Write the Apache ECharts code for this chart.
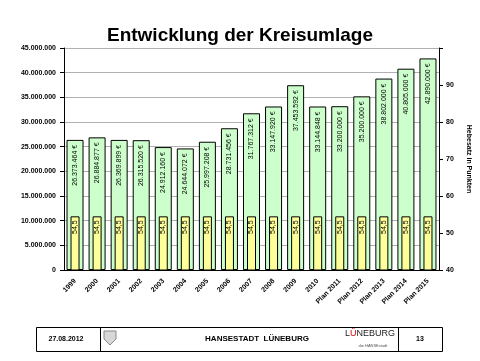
<!DOCTYPE html>
<html>
<head>
<meta charset="utf-8">
<script src="https://cdn.jsdelivr.net/npm/echarts@6/dist/echarts.min.js"></script>
<style>html,body{margin:0;padding:0;background:#fff}#c{width:480px;height:361px}</style>
</head>
<body>
<div id="c"></div>
<script>
var categories = ['1999','2000','2001','2002','2003','2004','2005','2006','2007','2008','2009','2010','Plan 2011','Plan 2012','Plan 2013','Plan 2014','Plan 2015'];
var kreisumlage = [26373464,26884877,26369899,26315520,24912160,24644072,25997208,28731456,31767312,33147920,37453592,33144848,33200000,35200000,38802000,40805000,42890000];
var hebesatz = [54.5,54.5,54.5,54.5,54.5,54.5,54.5,54.5,54.5,54.5,54.5,54.5,54.5,54.5,54.5,54.5,54.5];
var leftTicks = {min:0, max:45000000, interval:5000000};
var rightTicks = {min:40, max:100, interval:10};

function fmt(v){ return String(v).replace(/\B(?=(\d{3})+(?!\d))/g,'.'); }

var chart = echarts.init(document.getElementById('c'));
var F = 'Liberation Sans, Arial, sans-serif';
chart.setOption({
  animation:false,
  backgroundColor:'#fff',
  title:{text:'Entwicklung der Kreisumlage', left:'center', top:21, textStyle:{fontFamily:F, fontSize:19, fontWeight:'bold', color:'#000'}},
  grid:{left:64, right:37, top:48, bottom:91},
  xAxis:[{
    type:'category', data:categories,
    axisLine:{lineStyle:{color:'#000'}},
    axisTick:{lineStyle:{color:'#000'}, length:4},
    axisLabel:{rotate:45, margin:10, fontFamily:F, fontSize:7, fontWeight:'bold', color:'#000', interval:0}
  },{
    type:'category', data:categories, show:false
  }],
  yAxis:[{
    type:'value', min:leftTicks.min, max:leftTicks.max, interval:leftTicks.interval,
    axisLine:{show:true, lineStyle:{color:'#000'}},
    axisTick:{show:true, lineStyle:{color:'#000'}, length:4},
    splitLine:{lineStyle:{color:'#b0b0b0'}},
    axisLabel:{fontFamily:F, fontSize:7, fontWeight:'bold', color:'#000', margin:8, formatter:function(v){return fmt(v);}}
  },{
    type:'value', position:'right', min:rightTicks.min, max:rightTicks.max, interval:rightTicks.interval,
    name:'Hebesatz in Punkten', nameLocation:'middle', nameRotate:-90, nameGap:26,
    nameTextStyle:{fontFamily:F, fontSize:7, fontWeight:'bold', color:'#000'},
    axisLine:{show:true, lineStyle:{color:'#000'}},
    axisTick:{show:true, lineStyle:{color:'#000'}, length:4},
    splitLine:{show:false},
    axisLabel:{fontFamily:F, fontSize:7, fontWeight:'bold', color:'#000', margin:7, formatter:function(v){return v>=100?'':String(v);}}
  }],
  series:[{
    type:'bar', name:'Kreisumlage', xAxisIndex:0, yAxisIndex:0, data:kreisumlage, barWidth:17,
    itemStyle:{color:'#ccffcc', borderColor:'#000', borderWidth:1},
    label:{show:true, position:'insideTop', rotate:90, align:'right', verticalAlign:'middle', distance:5,
      fontFamily:F, fontSize:7, color:'#000', formatter:function(p){return fmt(p.value)+' €';}}
  },{
    type:'bar', name:'Hebesatz', xAxisIndex:1, yAxisIndex:1, data:hebesatz, barWidth:9, clip:true,
    itemStyle:{color:'#ffff99', borderColor:'#000', borderWidth:1},
    label:{show:true, position:'insideTop', rotate:90, align:'right', verticalAlign:'middle', distance:4,
      fontFamily:F, fontSize:7, color:'#000', formatter:function(p){return String(p.value).replace('.',',');}}
  }],
  graphic:[
    {type:'rect', shape:{x:36.5, y:327.5, width:406, height:24}, style:{fill:'none', stroke:'#000', lineWidth:1}},
    {type:'line', shape:{x1:100.5, y1:327.5, x2:100.5, y2:351.5}, style:{stroke:'#000', lineWidth:1}},
    {type:'line', shape:{x1:398.5, y1:327.5, x2:398.5, y2:351.5}, style:{stroke:'#000', lineWidth:1}},
    {type:'text', x:66, y:339, style:{text:'27.08.2012', fill:'#000', font:'bold 7px '+F, textAlign:'center', textVerticalAlign:'middle'}},
    {type:'text', x:257, y:339, style:{text:'HANSESTADT  LÜNEBURG', fill:'#000', font:'bold 8px '+F, textAlign:'center', textVerticalAlign:'middle'}},
    {type:'text', x:420, y:339, style:{text:'13', fill:'#000', font:'bold 7px '+F, textAlign:'center', textVerticalAlign:'middle'}},
    {type:'polygon', shape:{points:[[104,331],[116,331],[116,339],[110,345],[104,339]]}, style:{fill:'#d8d8d8', stroke:'#888', lineWidth:1}},
    {type:'text', x:370, y:334, style:{text:'{a|L}{b|Ü}{a|NEBURG}', rich:{a:{fill:'#222', font:'9px '+F}, b:{fill:'#d00000', font:'9px '+F}}, textAlign:'center', textVerticalAlign:'middle'}},
    {type:'text', x:373, y:346, style:{text:'die HANSEstadt', fill:'#555', font:'4px '+F, textAlign:'center', textVerticalAlign:'middle'}}
  ]
});
</script>
</body>
</html>
